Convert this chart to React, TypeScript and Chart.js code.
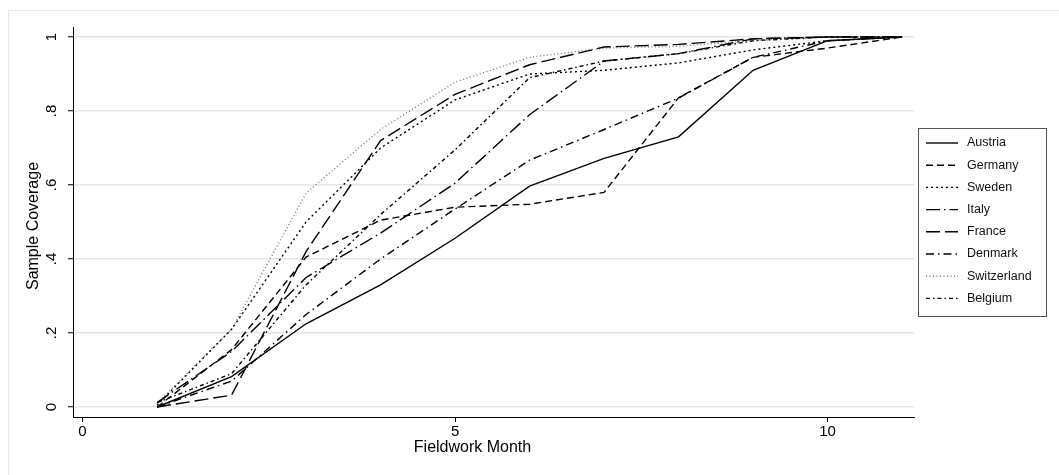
import React, { useEffect, useRef } from "react";
import { Chart, registerables } from "chart.js";

Chart.register(...registerables);

const months = [1, 2, 3, 4, 5, 6, 7, 8, 9, 10, 11];
const austria = [0, 0.082, 0.225, 0.33, 0.456, 0.597, 0.672, 0.73, 0.91, 0.99, 1];
const germany = [0, 0.155, 0.405, 0.505, 0.54, 0.548, 0.58, 0.836, 0.945, 0.97, 1];
const sweden = [0.005, 0.21, 0.5, 0.7, 0.83, 0.9, 0.91, 0.93, 0.965, 0.99, 1];
const italy = [0.012, 0.15, 0.35, 0.47, 0.605, 0.79, 0.935, 0.955, 0.995, 1, 1];
const france = [0, 0.032, 0.42, 0.72, 0.845, 0.925, 0.973, 0.98, 0.995, 1, 1];
const denmark = [0, 0.07, 0.25, 0.4, 0.535, 0.667, 0.75, 0.835, 0.945, 0.99, 1];
const switzerland = [0.01, 0.21, 0.578, 0.75, 0.878, 0.945, 0.97, 0.975, 0.99, 1, 1];
const belgium = [0.012, 0.09, 0.33, 0.52, 0.695, 0.89, 0.935, 0.955, 0.99, 1, 1];

const xTicks = [0, 5, 10];
const yTicks = [0, 0.2, 0.4, 0.6, 0.8, 1];
const yTickLabels = ["0", ".2", ".4", ".6", ".8", "1"];

const FONT = "'Liberation Sans', Arial, Helvetica, sans-serif";

const series = [
  { label: "Austria", data: austria, dash: [], color: "#000" },
  { label: "Germany", data: germany, dash: [7, 4], color: "#000" },
  { label: "Sweden", data: sweden, dash: [2, 3], color: "#000" },
  { label: "Italy", data: italy, dash: [14, 4, 1.5, 4], color: "#000" },
  { label: "France", data: france, dash: [14, 5], color: "#000" },
  { label: "Denmark", data: denmark, dash: [8, 4, 1.5, 4], color: "#000" },
  { label: "Switzerland", data: switzerland, dash: [1, 2.5], color: "#777" },
  { label: "Belgium", data: belgium, dash: [4, 3, 1.5, 3], color: "#000" },
];

const decorPlugin = {
  id: "decor",
  beforeDraw(chart: any) {
    const ctx = chart.ctx;
    ctx.save();
    ctx.fillStyle = "#fff";
    ctx.fillRect(0, 0, chart.width, chart.height);
    ctx.strokeStyle = "#e8e8e8";
    ctx.lineWidth = 1;
    ctx.beginPath();
    ctx.moveTo(8.5, chart.height);
    ctx.lineTo(8.5, 10.5);
    ctx.lineTo(chart.width, 10.5);
    ctx.stroke();
    ctx.restore();
  },
  afterDraw(chart: any) {
    const ctx = chart.ctx;
    const yScale = chart.scales.y;
    const xScale = chart.scales.x;
    const area = chart.chartArea;
    ctx.save();
    ctx.fillStyle = "#000";
    ctx.font = `15px ${FONT}`;
    ctx.textAlign = "center";
    ctx.textBaseline = "middle";
    yTicks.forEach((v, i) => {
      const py = yScale.getPixelForValue(v);
      ctx.save();
      ctx.translate(52, py);
      ctx.rotate(-Math.PI / 2);
      ctx.fillText(yTickLabels[i], 0, 0);
      ctx.restore();
    });
    ctx.font = `16px ${FONT}`;
    ctx.save();
    ctx.translate(34, (area.top + area.bottom) / 2 + 4);
    ctx.rotate(-Math.PI / 2);
    ctx.fillText("Sample Coverage", 0, 0);
    ctx.restore();
    ctx.fillText("Fieldwork Month", (xScale.left + xScale.right) / 2 - 21, 448);

    const bx = 918.5, by = 128.5, bw = 128, bh = 188;
    ctx.strokeStyle = "#555";
    ctx.lineWidth = 1;
    ctx.strokeRect(bx, by, bw, bh);
    ctx.font = `12.5px ${FONT}`;
    ctx.textAlign = "left";
    chart.data.datasets.forEach((ds: any, i: number) => {
      const cy = 143 + i * 22.2;
      ctx.save();
      ctx.strokeStyle = ds.borderColor;
      ctx.lineWidth = ds.borderWidth;
      ctx.setLineDash(ds.borderDash || []);
      ctx.beginPath();
      ctx.moveTo(926, cy);
      ctx.lineTo(958, cy);
      ctx.stroke();
      ctx.restore();
      ctx.fillStyle = "#111";
      ctx.fillText(ds.label, 967, cy);
    });
    ctx.restore();
  },
};

export default function App() {
  const ref = useRef<HTMLCanvasElement>(null);
  useEffect(() => {
    const canvas = ref.current;
    if (!canvas) return;
    const chart = new Chart(canvas, {
      type: "line",
      data: {
        datasets: series.map((s) => ({
          label: s.label,
          data: months.map((m, i) => ({ x: m, y: s.data[i] })),
          borderColor: s.color,
          borderWidth: 1.4,
          borderDash: s.dash,
          pointRadius: 0,
          fill: false,
          tension: 0,
        })),
      },
      options: {
        responsive: false,
        animation: false,
        devicePixelRatio: 1,
        layout: { padding: { top: 27, right: 145, left: 0, bottom: 0 } },
        plugins: { legend: { display: false }, tooltip: { enabled: false } },
        scales: {
          x: {
            type: "linear",
            min: -0.128,
            max: 11.16,
            afterBuildTicks: (scale: any) => {
              scale.ticks = xTicks.map((v) => ({ value: v }));
            },
            afterFit: (scale: any) => {
              scale.height = 58;
            },
            grid: {
              drawOnChartArea: false,
              drawTicks: true,
              tickLength: 5,
              tickColor: "#000",
            },
            border: { display: true, color: "#000", width: 1 },
            ticks: {
              color: "#000",
              font: { size: 15, family: FONT },
              padding: 1,
              maxRotation: 0,
              callback: (v: any) => String(v),
            },
          },
          y: {
            type: "linear",
            min: -0.027,
            max: 1.027,
            afterBuildTicks: (scale: any) => {
              scale.ticks = yTicks.map((v) => ({ value: v }));
            },
            afterFit: (scale: any) => {
              scale.width = 73;
            },
            grid: {
              color: "#e6e6e6",
              lineWidth: 1.5,
              drawTicks: true,
              tickLength: 5,
              tickColor: "#000",
              tickWidth: 1,
            },
            border: { display: true, color: "#000", width: 1 },
            ticks: { display: false },
          },
        },
      },
      plugins: [decorPlugin],
    });
    return () => chart.destroy();
  }, []);
  return (
    <div style={{ position: "fixed", left: 0, top: 0, width: 1059, height: 475, background: "#fff" }}>
      <canvas ref={ref} width={1059} height={475} style={{ display: "block" }} />
    </div>
  );
}
